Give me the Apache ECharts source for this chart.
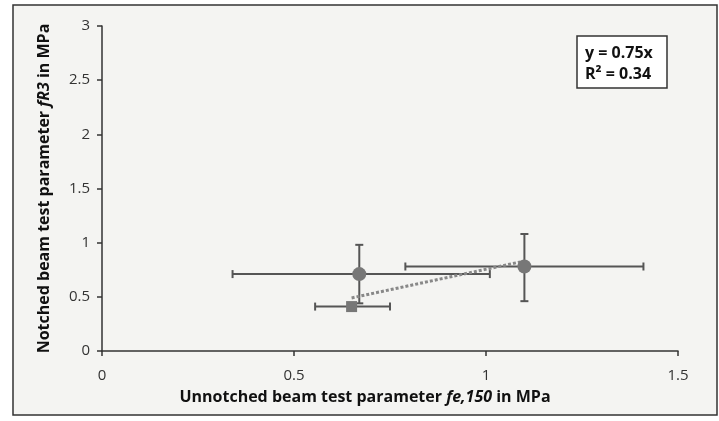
<!DOCTYPE html>
<html>
<head>
<meta charset="utf-8">
<script src="https://cdn.jsdelivr.net/npm/echarts@6/dist/echarts.min.js"></script>
<style>
html, body { margin: 0; padding: 0; background: #fff; }
#chartArea { width: 719px; height: 421px; }
</style>
</head>
<body>
<div id="chartArea"></div>
<script>
// 数据
var xValues = [0.67, 0.65, 1.10];
var yValues = [0.71, 0.41, 0.78];
var xErrLow = [0.34, 0.555, 0.79];
var xErrHigh = [1.01, 0.75, 1.41];
var yErrLow = [0.44, 0.38, 0.46];
var yErrHigh = [0.98, 0.44, 1.08];
var markerShapes = ['circle', 'rect', 'circle'];
var trendX = [0.65, 1.10];
var trendY = [0.49, 0.83];
var xTicks = [0, 0.5, 1, 1.5];
var yTicks = [0, 0.5, 1, 1.5, 2, 2.5, 3];

var fontName = '"Open Sans", sans-serif';

var errData = [];
for (var i = 0; i < xValues.length; i++) {
    errData.push([xValues[i], yValues[i], xErrLow[i], xErrHigh[i], yErrLow[i], yErrHigh[i]]);
}
var pointData = [];
for (var j = 0; j < xValues.length; j++) {
    pointData.push({ value: [xValues[j], yValues[j]], symbol: markerShapes[j], symbolSize: markerShapes[j] == 'rect' ? 11 : 14 });
}
var trendData = [];
for (var k = 0; k < trendX.length; k++) {
    trendData.push([trendX[k], trendY[k]]);
}

function renderErrorBar(params, api) {
    var c = api.coord([api.value(0), api.value(1)]);
    var xl = api.coord([api.value(2), api.value(1)]);
    var xh = api.coord([api.value(3), api.value(1)]);
    var yl = api.coord([api.value(0), api.value(4)]);
    var yh = api.coord([api.value(0), api.value(5)]);
    var cap = 4;
    var st = { stroke: '#555', lineWidth: 2 };
    return {
        type: 'group',
        children: [
            { type: 'line', shape: { x1: xl[0], y1: c[1], x2: xh[0], y2: c[1] }, style: st },
            { type: 'line', shape: { x1: xl[0], y1: c[1] - cap, x2: xl[0], y2: c[1] + cap }, style: st },
            { type: 'line', shape: { x1: xh[0], y1: c[1] - cap, x2: xh[0], y2: c[1] + cap }, style: st },
            { type: 'line', shape: { x1: c[0], y1: yl[1], x2: c[0], y2: yh[1] }, style: st },
            { type: 'line', shape: { x1: c[0] - cap, y1: yl[1], x2: c[0] + cap, y2: yl[1] }, style: st },
            { type: 'line', shape: { x1: c[0] - cap, y1: yh[1], x2: c[0] + cap, y2: yh[1] }, style: st }
        ]
    };
}

function nameStyle(pad) {
    return {
        fontFamily: fontName, fontWeight: 'bold', fontSize: 16, color: '#111', padding: pad,
        rich: {
            b: { fontFamily: fontName, fontWeight: 'bold', fontSize: 16, color: '#111' },
            i: { fontFamily: fontName, fontWeight: 'bold', fontStyle: 'italic', fontSize: 16, color: '#111' }
        }
    };
}

var option = {
    backgroundColor: '#ffffff',
    animation: false,
    grid: { left: 102, right: 41, top: 26, bottom: 70 },
    graphic: [
        {
            type: 'rect', z: -10, silent: true,
            shape: { x: 13, y: 5, width: 704, height: 410 },
            style: { fill: '#f4f4f2', stroke: '#333', lineWidth: 1.5 }
        },
        {
            type: 'rect', z: 10,
            shape: { x: 577, y: 36, width: 90, height: 52 },
            style: { fill: '#ffffff', stroke: '#333', lineWidth: 1.5 }
        },
        {
            type: 'text', z: 11, left: 585, top: 43,
            style: { text: 'y = 0.75x\nR² = 0.34', fill: '#111', font: 'bold 16px ' + fontName, lineHeight: 21 }
        }
    ],
    xAxis: {
        type: 'value', min: 0, max: 1.5, interval: 0.5,
        name: '{b|Unnotched beam test parameter }{i|fe,150}{b| in MPa}',
        nameLocation: 'middle', nameGap: 38,
        nameTextStyle: nameStyle([0, 50, 0, 0]),
        axisLine: { lineStyle: { color: '#333', width: 1.5 } },
        axisTick: { show: true, length: 5, lineStyle: { color: '#333', width: 1.5 } },
        axisLabel: { fontFamily: fontName, fontSize: 15, color: '#333', margin: 17,
            formatter: function (v) { return xTicks.indexOf(v) >= 0 ? String(v) : ''; } },
        splitLine: { show: false }
    },
    yAxis: {
        type: 'value', min: 0, max: 3, interval: 0.5,
        name: '{b|Notched beam test parameter }{i|fR3}{b| in MPa}',
        nameLocation: 'middle', nameGap: 50, nameRotate: 90,
        nameTextStyle: nameStyle(0),
        axisLine: { show: true, lineStyle: { color: '#333', width: 1.5 } },
        axisTick: { show: true, length: 5, lineStyle: { color: '#333', width: 1.5 } },
        axisLabel: { fontFamily: fontName, fontSize: 15, color: '#333', margin: 12,
            formatter: function (v) { return yTicks.indexOf(v) >= 0 ? String(v) : ''; } },
        splitLine: { show: false }
    },
    series: [
        {
            type: 'custom', renderItem: renderErrorBar, data: errData, z: 3
        },
        {
            type: 'line', data: trendData, symbol: 'none', z: 4,
            lineStyle: { color: '#888', width: 3, type: [3, 2] }
        },
        {
            type: 'scatter', data: pointData, z: 5,
            itemStyle: { color: '#777', opacity: 1 }
        }
    ]
};

var chartArea = document.getElementById('chartArea');
if (null != chartArea && 'undefined' != typeof(chartArea)) {
    var chart = echarts.init(chartArea);
    chart.setOption(option);
}
</script>
</body>
</html>
